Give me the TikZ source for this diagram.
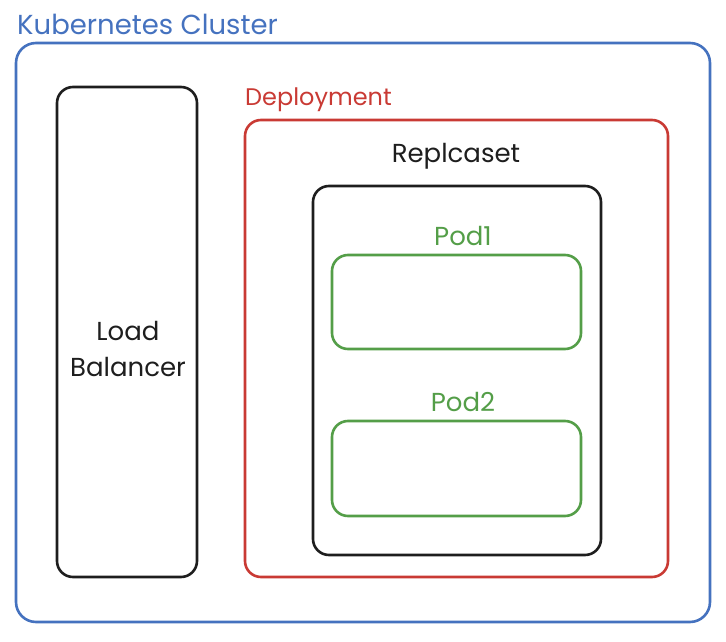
\documentclass[tikz,border=0pt]{standalone}
\usepackage{fontspec}
\setmainfont{Poppins}
\definecolor{kblue}{RGB}{69,114,191}
\definecolor{kred}{RGB}{201,58,52}
\definecolor{kgreen}{RGB}{84,158,72}
\definecolor{kblack}{RGB}{30,30,30}
\begin{document}
\begin{tikzpicture}[x=1pt,y=-1pt,
  box/.style={line width=2.6pt, rounded corners=16pt},
  lbl/.style={inner sep=0pt, font=\fontsize{26}{36}\selectfont},
]
\useasboundingbox (0,0) rectangle (726,642);
% cluster
\node[lbl, text=kblue, anchor=west, font=\fontsize{27.5}{36}\selectfont] (tcluster) at (17,24) {Kubernetes Cluster};
\draw[box, kblue, rounded corners=20pt] (16,43) rectangle (710,622);
% load balancer
\draw[box, kblack] (57,87) rectangle (197,577);
\node[lbl, text=kblack, align=center] (lb) at (128,349) {Load\\Balancer};
% deployment
\node[lbl, text=kred, anchor=west, font=\fontsize{24}{36}\selectfont] (tdep) at (245,100) {Deployment};
\draw[box, kred] (245,120) rectangle (668,577);
% replicaset
\node[lbl, text=kblack] (trs) at (456,156) {Replcaset};
\draw[box, kblack] (313,186) rectangle (601,555);
% pods
\node[lbl, text=kgreen] (tp1) at (463,236) {Pod1};
\draw[box, kgreen] (332,255) rectangle (581,349);
\node[lbl, text=kgreen] (tp2) at (463,402) {Pod2};
\draw[box, kgreen] (332,421) rectangle (581,516);
\end{tikzpicture}
\end{document}
